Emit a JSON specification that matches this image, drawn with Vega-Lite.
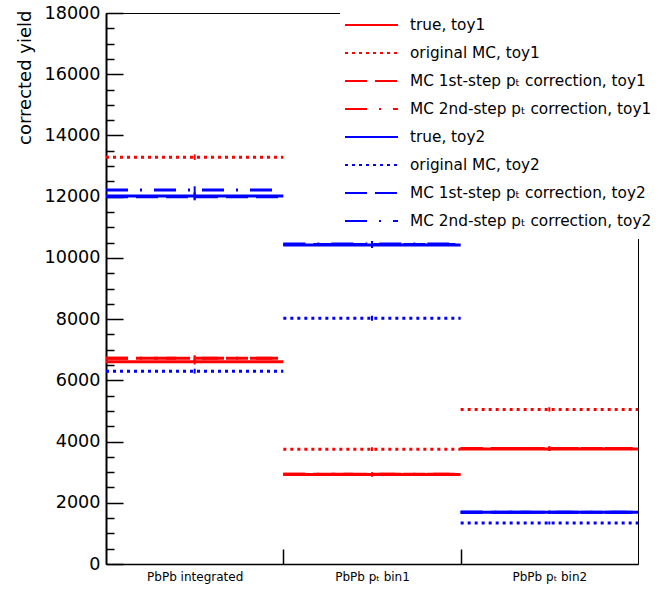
{
  "$schema": "https://vega.github.io/schema/vega-lite/v6.json",
  "autosize": "none",
  "padding": {"left": 106, "top": 13, "right": 21, "bottom": 27},
  "width": 532,
  "height": 551,
  "config": {
    "view": {"stroke": "#000000", "strokeWidth": 1},
    "font": "DejaVu Sans"
  },
  "data": {
    "values": [
      {"bin": "PbPb integrated", "lo": 0, "hi": 1, "mid": 0.5, "series": "true, toy1", "value": 6610, "err": 90},
      {"bin": "PbPb integrated", "lo": 0, "hi": 1, "mid": 0.5, "series": "original MC, toy1", "value": 13290, "err": 90},
      {"bin": "PbPb integrated", "lo": 0, "hi": 1, "mid": 0.5, "series": "MC 1st-step pₜ correction, toy1", "value": 6720, "err": 90},
      {"bin": "PbPb integrated", "lo": 0, "hi": 1, "mid": 0.5, "series": "MC 2nd-step pₜ correction, toy1", "value": 6720, "err": 90},
      {"bin": "PbPb integrated", "lo": 0, "hi": 1, "mid": 0.5, "series": "true, toy2", "value": 12020, "err": 120},
      {"bin": "PbPb integrated", "lo": 0, "hi": 1, "mid": 0.5, "series": "original MC, toy2", "value": 6300, "err": 80},
      {"bin": "PbPb integrated", "lo": 0, "hi": 1, "mid": 0.5, "series": "MC 1st-step pₜ correction, toy2", "value": 12000, "err": 120},
      {"bin": "PbPb integrated", "lo": 0, "hi": 1, "mid": 0.5, "series": "MC 2nd-step pₜ correction, toy2", "value": 12220, "err": 120},
      {"bin": "PbPb pT bin1", "lo": 1, "hi": 2, "mid": 1.5, "series": "true, toy1", "value": 2920, "err": 60},
      {"bin": "PbPb pT bin1", "lo": 1, "hi": 2, "mid": 1.5, "series": "original MC, toy1", "value": 3750, "err": 60},
      {"bin": "PbPb pT bin1", "lo": 1, "hi": 2, "mid": 1.5, "series": "MC 1st-step pₜ correction, toy1", "value": 2930, "err": 60},
      {"bin": "PbPb pT bin1", "lo": 1, "hi": 2, "mid": 1.5, "series": "MC 2nd-step pₜ correction, toy1", "value": 2930, "err": 60},
      {"bin": "PbPb pT bin1", "lo": 1, "hi": 2, "mid": 1.5, "series": "true, toy2", "value": 10420, "err": 100},
      {"bin": "PbPb pT bin1", "lo": 1, "hi": 2, "mid": 1.5, "series": "original MC, toy2", "value": 8030, "err": 80},
      {"bin": "PbPb pT bin1", "lo": 1, "hi": 2, "mid": 1.5, "series": "MC 1st-step pₜ correction, toy2", "value": 10440, "err": 100},
      {"bin": "PbPb pT bin1", "lo": 1, "hi": 2, "mid": 1.5, "series": "MC 2nd-step pₜ correction, toy2", "value": 10450, "err": 100},
      {"bin": "PbPb pT bin2", "lo": 2, "hi": 3, "mid": 2.5, "series": "true, toy1", "value": 3760, "err": 70},
      {"bin": "PbPb pT bin2", "lo": 2, "hi": 3, "mid": 2.5, "series": "original MC, toy1", "value": 5050, "err": 70},
      {"bin": "PbPb pT bin2", "lo": 2, "hi": 3, "mid": 2.5, "series": "MC 1st-step pₜ correction, toy1", "value": 3770, "err": 70},
      {"bin": "PbPb pT bin2", "lo": 2, "hi": 3, "mid": 2.5, "series": "MC 2nd-step pₜ correction, toy1", "value": 3770, "err": 70},
      {"bin": "PbPb pT bin2", "lo": 2, "hi": 3, "mid": 2.5, "series": "true, toy2", "value": 1690, "err": 50},
      {"bin": "PbPb pT bin2", "lo": 2, "hi": 3, "mid": 2.5, "series": "original MC, toy2", "value": 1340, "err": 50},
      {"bin": "PbPb pT bin2", "lo": 2, "hi": 3, "mid": 2.5, "series": "MC 1st-step pₜ correction, toy2", "value": 1690, "err": 50},
      {"bin": "PbPb pT bin2", "lo": 2, "hi": 3, "mid": 2.5, "series": "MC 2nd-step pₜ correction, toy2", "value": 1690, "err": 50}
    ]
  },
  "resolve": {"axis": {"y": "independent"}},
  "layer": [
    {
      "mark": {"type": "rule", "strokeWidth": 3, "strokeCap": "butt"},
      "encoding": {
        "x": {
          "field": "lo", "type": "quantitative",
          "scale": {"domain": [0, 3], "nice": false, "zero": false},
          "axis": {
            "title": null,
            "values": [0.5, 1, 1.5, 2, 2.5],
            "grid": false,
            "domainColor": "#000000",
            "domainWidth": 1.5,
            "tickColor": "#000000",
            "tickWidth": 1.5,
            "tickSize": -15,
            "tickOpacity": {"condition": {"test": "datum.value % 1 === 0", "value": 1}, "value": 0},
            "labelExpr": "datum.value === 0.5 ? 'PbPb integrated' : datum.value === 1.5 ? 'PbPb pₜ bin1' : datum.value === 2.5 ? 'PbPb pₜ bin2' : ''",
            "labelFontSize": 12,
            "labelColor": "#000000",
            "labelPadding": 22,
            "labelBaseline": "top"
          }
        },
        "x2": {"field": "hi"},
        "y": {
          "field": "value", "type": "quantitative",
          "title": "corrected yield",
          "scale": {"domain": [0, 18000], "nice": false},
          "axis": {
            "orient": "left",
            "title": "corrected yield",
            "titleFontSize": 18,
            "titleFontWeight": "normal",
            "titleColor": "#000000",
            "titleAngle": -90,
            "titleAlign": "right",
            "titleBaseline": "middle",
            "titleX": -81,
            "titleY": -3,
            "values": [0, 2000, 4000, 6000, 8000, 10000, 12000, 14000, 16000, 18000],
            "grid": false,
            "format": "d",
            "domainColor": "#000000",
            "domainWidth": 2,
            "tickColor": "#000000",
            "tickWidth": 1.5,
            "tickSize": -17,
            "labelFontSize": 17.6,
            "labelColor": "#000000",
            "labelPadding": 23,
            "labelOverlap": false
          }
        },
        "color": {
          "field": "series", "type": "nominal",
          "scale": {
            "domain": ["true, toy1", "original MC, toy1", "MC 1st-step pₜ correction, toy1", "MC 2nd-step pₜ correction, toy1", "true, toy2", "original MC, toy2", "MC 1st-step pₜ correction, toy2", "MC 2nd-step pₜ correction, toy2"],
            "range": ["#ff0000", "#ff0000", "#ff0000", "#ff0000", "#0000ff", "#0000ff", "#0000ff", "#0000ff"]
          },
          "legend": {
            "title": null,
            "orient": "none",
            "legendX": 234,
            "legendY": -6,
            "padding": 4,
            "fillColor": "#ffffff",
            "symbolType": "stroke",
            "symbolSize": 2809,
            "symbolStrokeWidth": 2,
            "labelFontSize": 15.3,
            "labelColor": "#000000",
            "labelOffset": 11,
            "labelLimit": 400,
            "clipHeight": 28,
            "rowPadding": 0
          }
        },
        "strokeDash": {
          "field": "series", "type": "nominal",
          "scale": {
            "domain": ["true, toy1", "original MC, toy1", "MC 1st-step pₜ correction, toy1", "MC 2nd-step pₜ correction, toy1", "true, toy2", "original MC, toy2", "MC 1st-step pₜ correction, toy2", "MC 2nd-step pₜ correction, toy2"],
            "range": [[1, 0], [3, 4], [22, 8], [22, 12, 2, 12], [1, 0], [3, 4], [22, 8], [22, 12, 2, 12]]
          }
        }
      }
    },
    {
      "mark": {"type": "errorbar", "ticks": false, "thickness": 2},
      "encoding": {
        "x": {"field": "mid", "type": "quantitative"},
        "y": {
          "field": "value", "type": "quantitative",
          "axis": {
            "orient": "left",
            "title": null,
            "values": [500,1000,1500,2500,3000,3500,4500,5000,5500,6500,7000,7500,8500,9000,9500,10500,11000,11500,12500,13000,13500,14500,15000,15500,16500,17000,17500],
            "grid": false,
            "labels": false,
            "domain": false,
            "tickColor": "#000000",
            "tickWidth": 1.5,
            "tickSize": -8
          }
        },
        "yError": {"field": "err"},
        "color": {"field": "series", "type": "nominal", "legend": null}
      }
    }
  ]
}
